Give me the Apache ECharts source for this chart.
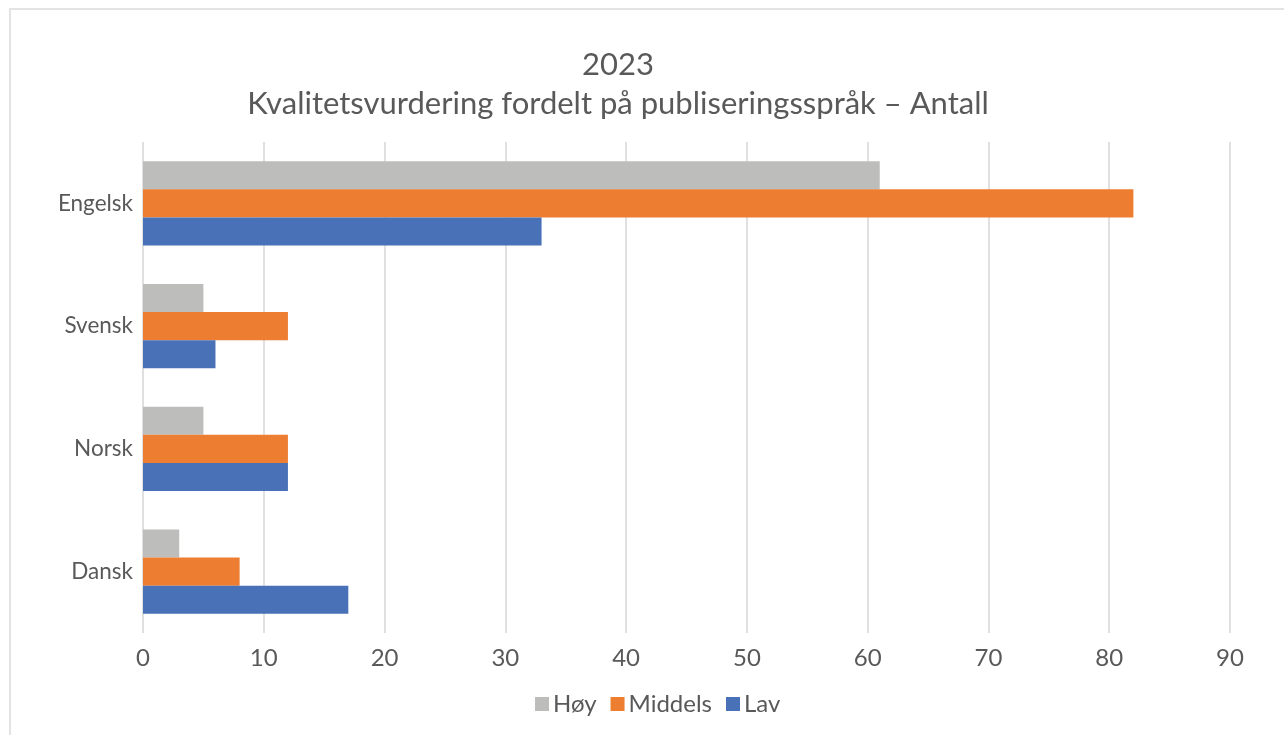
<!DOCTYPE html>
<html>
<head>
<meta charset="utf-8">
<script src="https://cdn.jsdelivr.net/npm/echarts@6/dist/echarts.min.js"></script>
<style>
html,body{margin:0;padding:0;background:#fff;overflow:hidden;}
#frame{position:absolute;left:9px;top:8px;width:1300px;height:800px;border:2px solid #E3E3E3;box-sizing:border-box;}
#chart{position:absolute;left:0;top:0;width:1284px;height:735px;}
</style>
</head>
<body>
<div id="frame"></div>
<div id="chart"></div>
<script>
const categories = ['Engelsk', 'Svensk', 'Norsk', 'Dansk'];
const seriesNames = ['Høy', 'Middels', 'Lav'];
const hoy = [61, 5, 5, 3];
const middels = [82, 12, 12, 8];
const lav = [33, 6, 12, 17];
const xTicks = [0, 10, 20, 30, 40, 50, 60, 70, 80, 90];
const titleLines = ['2023', 'Kvalitetsvurdering fordelt på publiseringsspråk – Antall'];

const colors = {'Høy': '#BDBEBC', 'Middels': '#ED7D31', 'Lav': '#4971B8'};
const values = {'Høy': hoy, 'Middels': middels, 'Lav': lav};
const font = 'Lato';

const chart = echarts.init(document.getElementById('chart'));
chart.setOption({
  animation: false,
  textStyle: {fontFamily: font},
  title: {
    text: titleLines.join('\n'),
    left: 613, top: 40, textAlign: 'center',
    textStyle: {fontFamily: font, fontSize: 31, fontWeight: 'normal', color: '#595959', lineHeight: 39}
  },
  legend: {
    data: seriesNames,
    bottom: 14, left: 530,
    icon: 'rect', itemWidth: 14, itemHeight: 14, itemGap: 14,
    textStyle: {fontFamily: font, fontSize: 24, color: '#595959', padding: [0, 0, 0, -1]}
  },
  grid: {left: 143, right: 54, top: 142, bottom: 102, containLabel: false},
  xAxis: {
    type: 'value', min: xTicks[0], max: xTicks[xTicks.length - 1], interval: 10,
    axisLine: {show: false}, axisTick: {show: false},
    splitLine: {show: true, lineStyle: {color: '#E0E0E0', width: 2}},
    axisLabel: {fontFamily: font, fontSize: 24, color: '#595959', margin: 13}
  },
  yAxis: {
    type: 'category', data: categories, inverse: true,
    axisLine: {show: false}, axisTick: {show: false},
    axisLabel: {fontFamily: font, fontSize: 22.5, color: '#595959', margin: 10}
  },
  series: seriesNames.map(n => ({
    name: n, type: 'bar', data: values[n],
    itemStyle: {color: colors[n]},
    barGap: '0%', barCategoryGap: '31.5%'
  }))
});
</script>
</body>
</html>
